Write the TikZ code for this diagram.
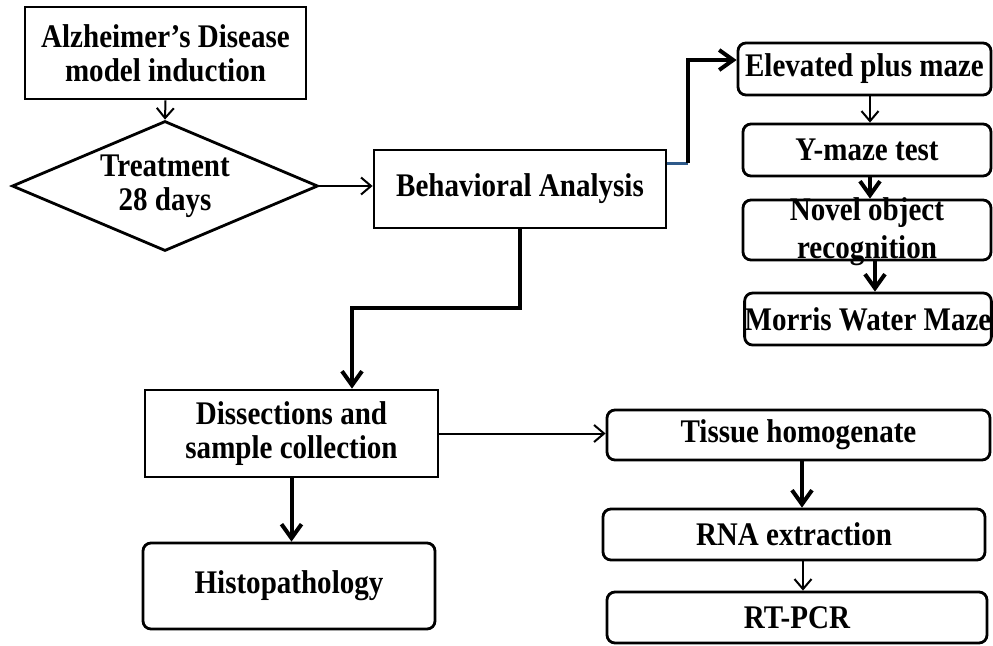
\documentclass[tikz,border=0pt]{standalone}
\usepackage{fontspec}
\setmainfont{Liberation Serif}[FakeStretch=0.88]
\usetikzlibrary{arrows.meta,shapes.geometric}
\definecolor{stubblue}{HTML}{2E5A8A}
\newcommand{\pxu}{*0.5pt}
\begin{document}
\begin{tikzpicture}[x=0.5pt,y=-0.5pt,
  font=\fontsize{16.5}{17}\selectfont\bfseries,
  sqbox/.style={draw, line width=1.4pt, rectangle, inner sep=0pt, align=center},
  rbox/.style={draw, line width=1.4pt, rectangle, rounded corners=4pt, inner sep=0pt, align=center},
  thinarr/.style={line width=1pt, -{Straight Barb[length=5pt,width=8.5pt]}},
  thickarr/.style={line width=2pt, -{Straight Barb[length=7pt,width=10pt]}},
]
\useasboundingbox (0,0) rectangle (993,645);

% left column
\node[sqbox, minimum width=281\pxu, minimum height=92\pxu] (alz) at (165.5,53) {Alzheimer’s Disease\\model induction};
\node[draw, diamond, aspect=2.35, line width=1.4pt, inner sep=0pt, minimum width=306\pxu, minimum height=130\pxu, align=center] (treat) at (165,186) {Treatment\\28 days};
\node[sqbox, minimum width=292\pxu, minimum height=78\pxu] (beh) at (520,189) {Behavioral Analysis};
\node[sqbox, minimum width=293\pxu, minimum height=87\pxu] (diss) at (291.5,433.5) {Dissections and\\sample collection};
\node[rbox, minimum width=292\pxu, minimum height=86\pxu] (histo) at (289,586) {Histopathology};

% behavioural tests
\node[rbox, minimum width=253\pxu, minimum height=52\pxu] (elev) at (864.5,69) {Elevated plus maze};
\node[rbox, minimum width=248\pxu, minimum height=52\pxu] (ymaze) at (867,150) {Y-maze test};
\node[rbox, minimum width=248\pxu, minimum height=60\pxu] (novel) at (867,230) {};
\node[inner sep=0pt, align=center] (noveltxt) at (867,232) {Novel object\\[2pt]recognition};
\node[rbox, minimum width=246\pxu, minimum height=52\pxu] (morris) at (868,319) {Morris Water Maze};

% molecular
\node[rbox, minimum width=383\pxu, minimum height=50\pxu] (tis) at (798.5,435) {Tissue homogenate};
\node[rbox, minimum width=382\pxu, minimum height=51\pxu] (rna) at (794,534.5) {RNA extraction};
\node[rbox, minimum width=380\pxu, minimum height=51\pxu] (rt) at (797,617.5) {RT-PCR};

% helper coordinates
\coordinate (bk) at (688,163);
\coordinate (bt) at (688,60);
\coordinate (t1) at (520,308);
\coordinate (t2) at (352,308);
\coordinate (x870) at (870,0);
\coordinate (x875) at (875,0);
\coordinate (x802) at (802,0);
\coordinate (x803) at (803,0);

% connectors
\draw[thinarr] (alz.south) -- (treat.north);
\draw[thinarr] (treat.east) -- (treat.east -| beh.west);
\draw[stubblue, line width=1.5pt] (beh.east |- bk) -- (bk);
\draw[thickarr] (bk) -- (bt) -- (bt -| elev.west);
\draw[thickarr] (beh.south) -- (t1) -- (t2) -- (t2 |- diss.north);
\draw[thinarr] (diss.east) -- (diss.east -| tis.west);
\draw[thickarr] (diss.south) -- (diss.south |- histo.north);
\draw[thinarr] (elev.south -| x870) -- (ymaze.north -| x870);
\draw[thickarr] (ymaze.south -| x870) -- (novel.north -| x870);
\draw[thickarr] (novel.south -| x875) -- (morris.north -| x875);
\draw[thickarr] (tis.south -| x802) -- (rna.north -| x802);
\draw[thinarr] (rna.south -| x803) -- (rt.north -| x803);
\end{tikzpicture}
\end{document}
